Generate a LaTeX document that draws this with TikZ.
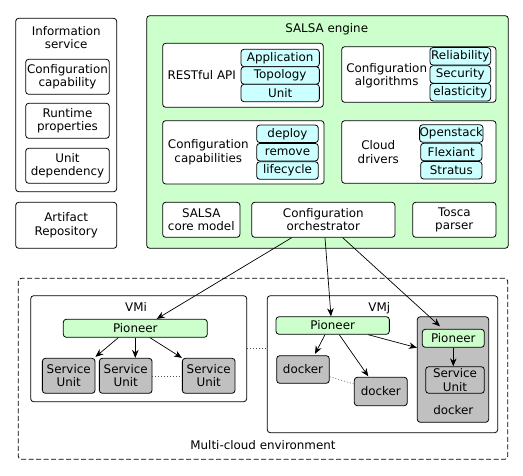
\documentclass[tikz,border=0pt]{standalone}
\usepackage{fontspec}
\setmainfont{DejaVu Sans}
\usepackage{xcolor}
\usetikzlibrary{arrows.meta}
\usetikzlibrary{calc}
\definecolor{salsagreen}{HTML}{CCFFCC}
\definecolor{salsacyan}{HTML}{CCFFFF}
\definecolor{salsagray}{HTML}{C0C0C0}
\begin{document}
\begin{tikzpicture}[x=1pt,y=-1pt,
  every node/.style={font=\fontsize{11.9}{13.4}\selectfont,inner sep=0pt,align=center},
  box/.style={draw,line width=0.8pt,rounded corners=3pt,fill=white},
  greenbox/.style={box,fill=salsagreen},
  cyanbox/.style={box,fill=salsacyan,minimum height=17.5pt},
  graybox/.style={box,fill=salsagray},
  arr/.style={line width=0.7pt,-{Stealth[length=8pt,width=6.5pt]}},
  dots/.style={dash pattern=on 1pt off 2pt,line width=0.6pt,black!70}]
\useasboundingbox (0,0) rectangle (523,475);

\node[box,minimum width=101pt,minimum height=173.4pt] (info) at (66.2,105) {};
\node (infotitle) at (66.2,37.5) {Information\\service};
\node[box,minimum width=83.6pt,minimum height=35pt] (confcap) at (67.5,76.8) {Configuration\\capability};
\node[box,minimum width=83.6pt,minimum height=35pt] (runtime) at (67.5,120.8) {Runtime\\properties};
\node[box,minimum width=83.6pt,minimum height=35pt] (unitdep) at (67.5,165.8) {Unit\\dependency};
\node[box,minimum width=101pt,minimum height=46pt] (artifact) at (66.2,225.3) {Artifact\\Repository};

\node[greenbox,minimum width=361.6pt,minimum height=232.6pt] (engine) at (327.5,132) {};
\node (enginetitle) at (326.7,29.3) {SALSA engine};

\node[box,minimum width=160.6pt,minimum height=64pt] (rest) at (243,75.3) {};
\node (resttext) at (201.7,75.3) {RESTful API};
\node[cyanbox,minimum width=78.3pt] (app) at (280.2,58) {Application};
\node[cyanbox,minimum width=78.3pt] (topo) at (280.2,75.5) {Topology};
\node[cyanbox,minimum width=78.3pt] (unit) at (280.2,93) {Unit};

\node[box,minimum width=154.3pt,minimum height=55.6pt] (algo) at (418.8,74.5) {};
\node (algotext) at (386.7,76) {Configuration\\algorithms};
\node[cyanbox,minimum width=60.7pt] (reli) at (460.3,56.3) {Reliability};
\node[cyanbox,minimum width=60.7pt] (secu) at (460.3,74.5) {Security};
\node[cyanbox,minimum width=60.7pt] (elas) at (460.3,92.2) {elasticity};

\node[box,minimum width=161.3pt,minimum height=63.3pt] (caps) at (243.3,152.3) {};
\node (capstext) at (208.3,152.3) {Configuration\\capabilities};
\node[cyanbox,minimum width=61.6pt] (deploy) at (287.5,133.8) {deploy};
\node[cyanbox,minimum width=61.6pt] (remove) at (287.5,152.2) {remove};
\node[cyanbox,minimum width=61.6pt] (life) at (287.5,170.5) {lifecycle};

\node[box,minimum width=154.3pt,minimum height=62.6pt] (cloud) at (418.8,152) {};
\node (cloudtext) at (378.3,152) {Cloud\\drivers};
\node[cyanbox,minimum width=61.3pt] (open) at (451.3,133.5) {Openstack};
\node[cyanbox,minimum width=61.3pt] (flex) at (451.3,152) {Flexiant};
\node[cyanbox,minimum width=61.3pt] (strat) at (451.3,170.3) {Stratus};

\node[box,minimum width=77.3pt,minimum height=35pt] (core) at (201.3,219.8) {SALSA\\core model};
\node[box,minimum width=143.3pt,minimum height=35pt] (orch) at (323.3,219.8) {Configuration\\orchestrator};
\node[box,minimum width=83.3pt,minimum height=35pt] (tosca) at (454.3,219.8) {Tosca\\parser};

\node[box,dash pattern=on 5pt off 2.5pt,minimum width=489.4pt,minimum height=181pt] (multi) at (263,368.8) {};
\node (multitext) at (263,445) {Multi-cloud environment};

\node[box,minimum width=216pt,minimum height=106pt] (vmi) at (138.7,348.7) {};
\node (vmitext) at (136,307.3) {VMi};
\node[greenbox,minimum width=144pt,minimum height=18pt] (pi) at (135.3,328.3) {Pioneer};
\node[graybox,minimum width=52.7pt,minimum height=35pt] (sui) at (68.7,375.8) {Service\\Unit};
\node[graybox,minimum width=52.7pt,minimum height=35pt] (suii) at (125.7,375.8) {Service\\Unit};
\node[graybox,minimum width=52.7pt,minimum height=35pt] (suiii) at (208.7,375.8) {Service\\Unit};

\node[box,minimum width=230.4pt,minimum height=137pt] (vmj) at (382.5,364.2) {};
\node (vmjtext) at (379.3,308.3) {VMj};
\node[greenbox,minimum width=113.3pt,minimum height=17.6pt] (pj) at (332.7,325.5) {Pioneer};
\node[graybox,minimum width=52.6pt,minimum height=27.6pt] (dki) at (303,369.5) {docker};
\node[graybox,minimum width=53pt,minimum height=28.4pt] (dkii) at (380.8,391.5) {docker};
\node[graybox,minimum width=71.4pt,minimum height=105.6pt] (cont) at (453,369.5) {};
\node (conttext) at (453.3,410) {docker};
\node[greenbox,minimum width=62pt,minimum height=18pt] (pin) at (453.3,338.3) {Pioneer};
\node[graybox,minimum width=58.6pt,minimum height=26.6pt] (sun) at (455,380) {Service\\Unit};

\draw[arr] ([xshift=-31.6pt]orch.south) -- ([xshift=21.4pt]pi.north);
\draw[arr] ([xshift=1.7pt]orch.south) -- ([xshift=-1.7pt]pj.north);
\draw[arr] ([xshift=19.4pt]orch.south) -- ([xshift=-13.3pt,yshift=2.6pt]pin.north);

\draw[arr] ([xshift=-17pt]pi.south) -- ([yshift=1pt]sui.north east);
\draw[arr] (pi.south) -- (pi.south |- suii.north);
\draw[arr] ([xshift=14.7pt]pi.south) -- (suiii.north west);

\draw[arr] ([xshift=-7.7pt]pj.south) -- ([xshift=12pt,yshift=1.4pt]dki.north);
\draw[arr] ([xshift=6.6pt]pj.south) -- ([xshift=-12.5pt,yshift=0.6pt]dkii.north);
\draw[arr] ([xshift=35.6pt]pj.south) -- ([yshift=21.8pt]cont.west);
\draw[arr] (pin.south) -- (pin.south |- sun.north);

\draw[dots] (suii.east) -- (suiii.west);
\draw[dots] (vmi.east) -- (vmi.east -| vmj.west);
\draw[dots] ([yshift=-7.2pt]dki.east) -- ([yshift=7.5pt]dkii.west);
\end{tikzpicture}
\end{document}
